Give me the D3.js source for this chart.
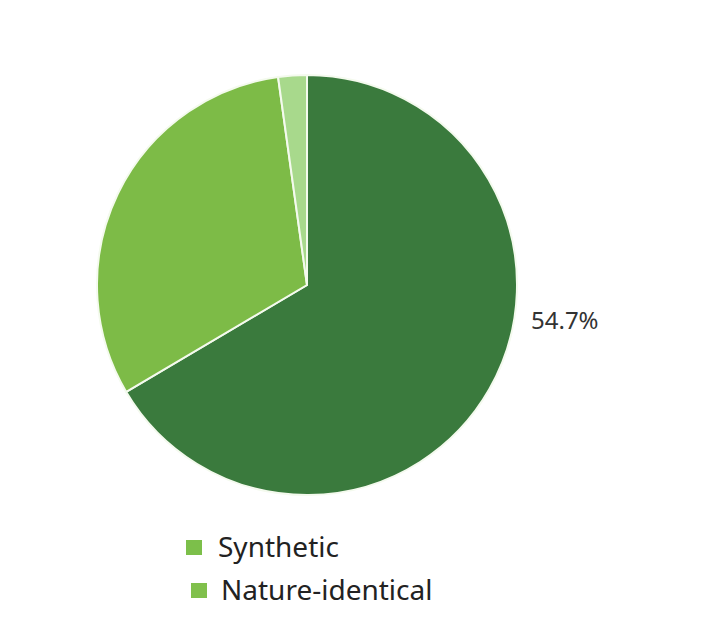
<!DOCTYPE html>
<html><head><meta charset="utf-8">
<script src="https://cdn.jsdelivr.net/npm/d3@7"></script>
<style>html,body{margin:0;padding:0;background:#fff;}svg{display:block;}</style>
</head><body>
<svg id="chart" width="705" height="628"></svg>
<script>
const categories = ["Synthetic", "Nature-identical", "Natural"];
const values = [66.5, 31.3, 2.2];
const sliceColors = ["#3a7a3d", "#7dbb47", "#a8d98c"];
const sliceLabels = ["54.7%", "", ""];
const legendItems = ["Synthetic", "Nature-identical"];
const legendColors = ["#7cbf4a", "#80c04c"];

const svg = d3.select("#chart");
const cx = 307, cy = 285, R = 210;
const g = svg.append("g").attr("transform", `translate(${cx},${cy})`);
const pie = d3.pie().sort(null).value(d => d)(values);
const arc = d3.arc().innerRadius(0).outerRadius(R);
g.selectAll("path").data(pie).join("path")
  .attr("d", arc)
  .attr("fill", (d, i) => sliceColors[i])
  .attr("stroke", "#f4faee").attr("stroke-width", 2);

g.selectAll("text.lbl").data(pie.filter((d, i) => sliceLabels[i])).join("text")
  .attr("class", "lbl")
  .attr("x", 224).attr("y", 44)
  .attr("font-family", "Noto Sans, sans-serif").attr("font-size", 24)
  .attr("fill", "#333").attr("text-anchor", "start")
  .text(d => sliceLabels[d.index]);

const legend = svg.append("g");
const lg = legend.selectAll("g").data(legendItems).join("g")
  .attr("transform", (d, i) => `translate(${186 + i * 5},${540 + i * 43})`);
lg.append("rect").attr("width", 16).attr("height", 15).attr("fill", (d, i) => legendColors[i]);
lg.append("text").attr("x", (d, i) => i === 0 ? 32 : 30).attr("y", 17)
  .attr("font-family", "Noto Sans, sans-serif").attr("font-size", 28)
  .attr("fill", "#222").text(d => d);
</script>
</body></html>
